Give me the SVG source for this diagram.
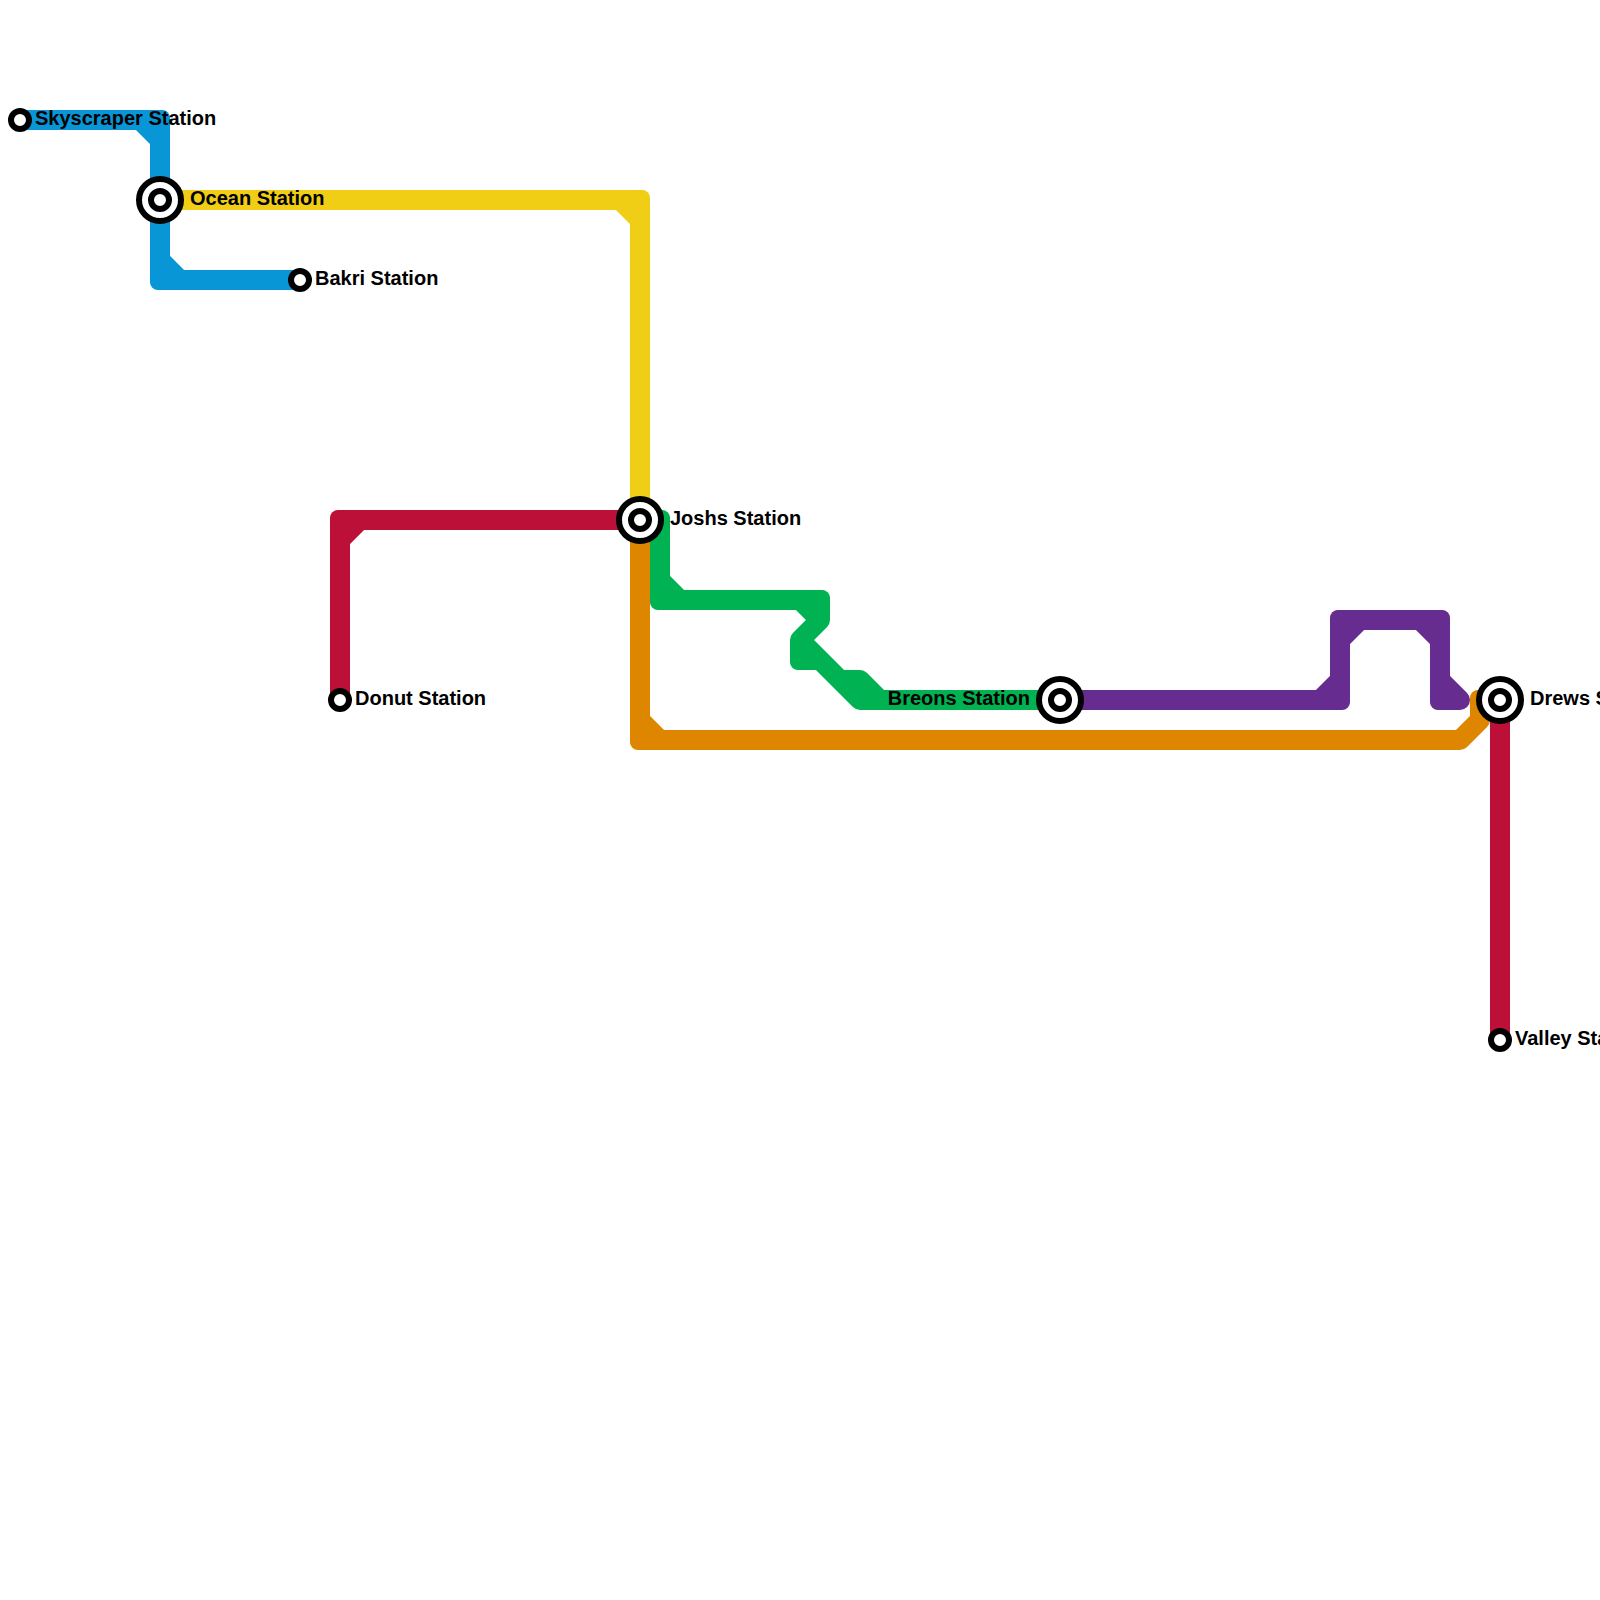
<svg xmlns="http://www.w3.org/2000/svg" width="1600" height="1600" viewBox="0 0 1600 1600">
<style>
.line{fill:none;stroke-width:20;stroke-linejoin:round;stroke-linecap:butt}
.blue{stroke:#0896d7}.yellow{stroke:#f0ce15}.red{stroke:#bd1038}.orange{stroke:#df8600}.green{stroke:#00b251}.purple{stroke:#662c90}
.fblue{fill:#0896d7}.fyellow{fill:#f0ce15}.fred{fill:#bd1038}.forange{fill:#df8600}.fgreen{fill:#00b251}.fpurple{fill:#662c90}
.ring{fill:#fff;stroke:#000;stroke-width:6}
text{font-family:"Liberation Sans",Arial,sans-serif;font-weight:700;font-size:20px;fill:#000}
</style>
<defs>
<rect id="c" x="-10" y="-10" width="20" height="20" rx="8"/>
<g id="small"><circle r="9" class="ring"/></g>
<g id="big"><circle r="21" class="ring"/><circle r="9" class="ring"/></g>
</defs>
<rect width="1600" height="1600" fill="#fff"/>
<g id="connectors">
<g id="line-yellow" class="fyellow"><path class="line yellow" d="M160 200H640V520M620 200L640 220"/><use href="#c" x="640" y="200"/></g>
<g id="line-blue" class="fblue"><path class="line blue" d="M20 120H160V280H300M140 120L160 140M160 260L180 280"/><use href="#c" x="160" y="120"/><use href="#c" x="160" y="280"/></g>
<g id="line-orange" class="forange"><path class="line orange" d="M640 520V740H1460L1480 720V700H1500M640 720L660 740"/><use href="#c" x="640" y="740"/><use href="#c" x="1480" y="700"/></g>
<g id="line-green" class="fgreen"><path class="line green" d="M640 520H660V600H820V620L800 640V660H820L840 680H860L880 700H1060M800 640L860 700H880M660 580L680 600M800 600L820 620"/><use href="#c" x="660" y="520"/><use href="#c" x="660" y="600"/><use href="#c" x="820" y="600"/><use href="#c" x="800" y="660"/></g>
<g id="line-purple" class="fpurple"><path class="line purple" d="M1060 700H1340V620H1440V700H1460L1440 680M1320 700L1340 680M1340 640L1360 620M1420 620L1440 640"/><use href="#c" x="1340" y="700"/><use href="#c" x="1340" y="620"/><use href="#c" x="1440" y="620"/><use href="#c" x="1440" y="700"/></g>
<g id="line-red" class="fred"><path class="line red" d="M640 520H340V700M340 540L360 520M1500 700V1040"/><use href="#c" x="340" y="520"/></g>
</g>
<g id="skyscraper-station"><use href="#small" x="20" y="120"/><text x="35" y="125">Skyscraper Station</text></g>
<g id="ocean-station"><use href="#big" x="160" y="200"/><text x="190" y="205">Ocean Station</text></g>
<g id="bakri-station"><use href="#small" x="300" y="280"/><text x="315" y="285">Bakri Station</text></g>
<g id="donut-station"><use href="#small" x="340" y="700"/><text x="355" y="705">Donut Station</text></g>
<g id="joshs-station"><use href="#big" x="640" y="520"/><text x="670" y="525">Joshs Station</text></g>
<g id="breons-station"><use href="#big" x="1060" y="700"/><text x="1030" y="705" text-anchor="end">Breons Station</text></g>
<g id="drews-station"><use href="#big" x="1500" y="700"/><text x="1530" y="705">Drews Station</text></g>
<g id="valley-station"><use href="#small" x="1500" y="1040"/><text x="1515" y="1045">Valley Station</text></g>
</svg>
